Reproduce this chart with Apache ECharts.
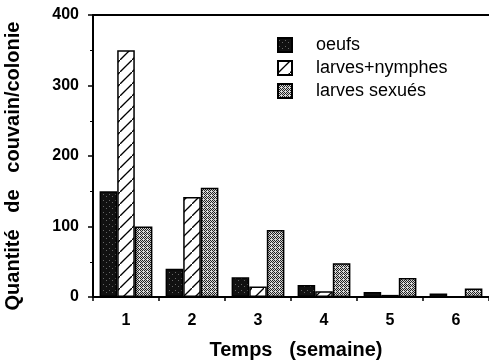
<!DOCTYPE html>
<html>
<head>
<meta charset="utf-8">
<script src="https://cdn.jsdelivr.net/npm/echarts@6/dist/echarts.min.js"></script>
<style>
  html, body { margin: 0; padding: 0; background: #fff; }
  #chart { width: 489px; height: 360px; }
</style>
</head>
<body>
<div id="chart"></div>
<script>
const weeks = ['1', '2', '3', '4', '5', '6'];
const oeufs = [150, 40, 28, 17, 7, 5];
const larvesNymphes = [350, 142, 15, 8, 3, 1];
const larvesSexues = [100, 155, 95, 48, 27, 12];
const yTicks = [0, 100, 200, 300, 400];

// fill patterns, drawn on small canvases
const makeTile = (size, draw) => {
  const c = document.createElement('canvas');
  c.width = size;
  c.height = size;
  draw(c.getContext('2d'), size);
  return c;
};

const darkTile = makeTile(6, (ctx, s) => {
  ctx.fillStyle = '#111';
  ctx.fillRect(0, 0, s, s);
  ctx.fillStyle = '#666';
  ctx.fillRect(1, 2, 1, 1);
  ctx.fillRect(4, 4, 1, 1);
});

const hatchTile = makeTile(12, (ctx, s) => {
  ctx.fillStyle = '#fff';
  ctx.fillRect(0, 0, s, s);
  ctx.strokeStyle = '#000';
  ctx.lineWidth = 1.3;
  ctx.beginPath();
  ctx.moveTo(-2, s + 2);
  ctx.lineTo(s + 2, -2);
  ctx.stroke();
});

// checkered grey stipple
const greyTile = makeTile(4, (ctx, s) => {
  ctx.fillStyle = '#d8d8d8';
  ctx.fillRect(0, 0, s, s);
  ctx.fillStyle = '#222';
  ctx.fillRect(0, 0, 1, 1);
  ctx.fillRect(2, 0, 1, 1);
  ctx.fillRect(1, 1, 1, 1);
  ctx.fillRect(3, 1, 1, 1);
  ctx.fillRect(0, 2, 1, 1);
  ctx.fillRect(2, 2, 1, 1);
  ctx.fillRect(1, 3, 1, 1);
});

const font = 'Liberation Sans, Arial, sans-serif';

const makeSeries = (name, data, tile) => ({
  name: name,
  type: 'bar',
  data: data,
  barGap: '0%',
  barCategoryGap: '20%',
  itemStyle: {
    color: { image: tile, repeat: 'repeat' },
    borderColor: '#000',
    borderWidth: 1.5
  }
});

const chart = echarts.init(document.getElementById('chart'));

chart.setOption({
  animation: false,
  backgroundColor: '#fff',
  textStyle: { fontFamily: font },
  grid: { left: 93, right: 0, top: 15, bottom: 63, outerBoundsMode: 'none' },
  legend: {
    orient: 'vertical',
    left: 272,
    top: 31,
    itemWidth: 14,
    itemHeight: 14,
    itemGap: 5,
    icon: 'rect',
    textStyle: { fontSize: 18, lineHeight: 18, color: '#000', fontFamily: font, padding: [0, 0, 0, 19] },
    data: ['oeufs', 'larves+nymphes', 'larves sexués']
  },
  xAxis: [
    {
      type: 'category',
      data: weeks,
      name: 'Temps   (semaine)',
      nameLocation: 'middle',
      nameGap: 43,
      nameTextStyle: { fontSize: 20, fontWeight: 'bold', color: '#000', fontFamily: font, padding: [0, 0, 0, 10] },
      axisLine: { lineStyle: { color: '#000', width: 2 } },
      axisTick: { show: true, length: 4, lineStyle: { color: '#000', width: 1.5 } },
      axisLabel: { fontSize: 16, fontWeight: 'bold', color: '#000', margin: 16 }
    },
    {
      type: 'category',
      position: 'top',
      data: weeks,
      axisLine: { lineStyle: { color: '#000', width: 2 } },
      axisTick: { show: false },
      axisLabel: { show: false }
    }
  ],
  yAxis: {
    type: 'value',
    min: yTicks[0],
    max: yTicks[yTicks.length - 1],
    interval: 100,
    name: 'Quantité   de   couvain/colonie',
    nameLocation: 'middle',
    nameGap: 70,
    nameTextStyle: { fontSize: 20, fontWeight: 'bold', color: '#000', fontFamily: font, padding: [0, 20, 0, 0] },
    axisLine: { show: true, lineStyle: { color: '#000', width: 2 } },
    axisTick: { show: true, length: 5, lineStyle: { color: '#000', width: 1.5 } },
    minorTick: { show: true, splitNumber: 2, length: 3, lineStyle: { color: '#000' } },
    splitLine: { show: false },
    axisLabel: { fontSize: 16, fontWeight: 'bold', color: '#000', margin: 14 }
  },
  series: [
    makeSeries('oeufs', oeufs, darkTile),
    makeSeries('larves+nymphes', larvesNymphes, hatchTile),
    makeSeries('larves sexués', larvesSexues, greyTile)
  ]
});
</script>
</body>
</html>
